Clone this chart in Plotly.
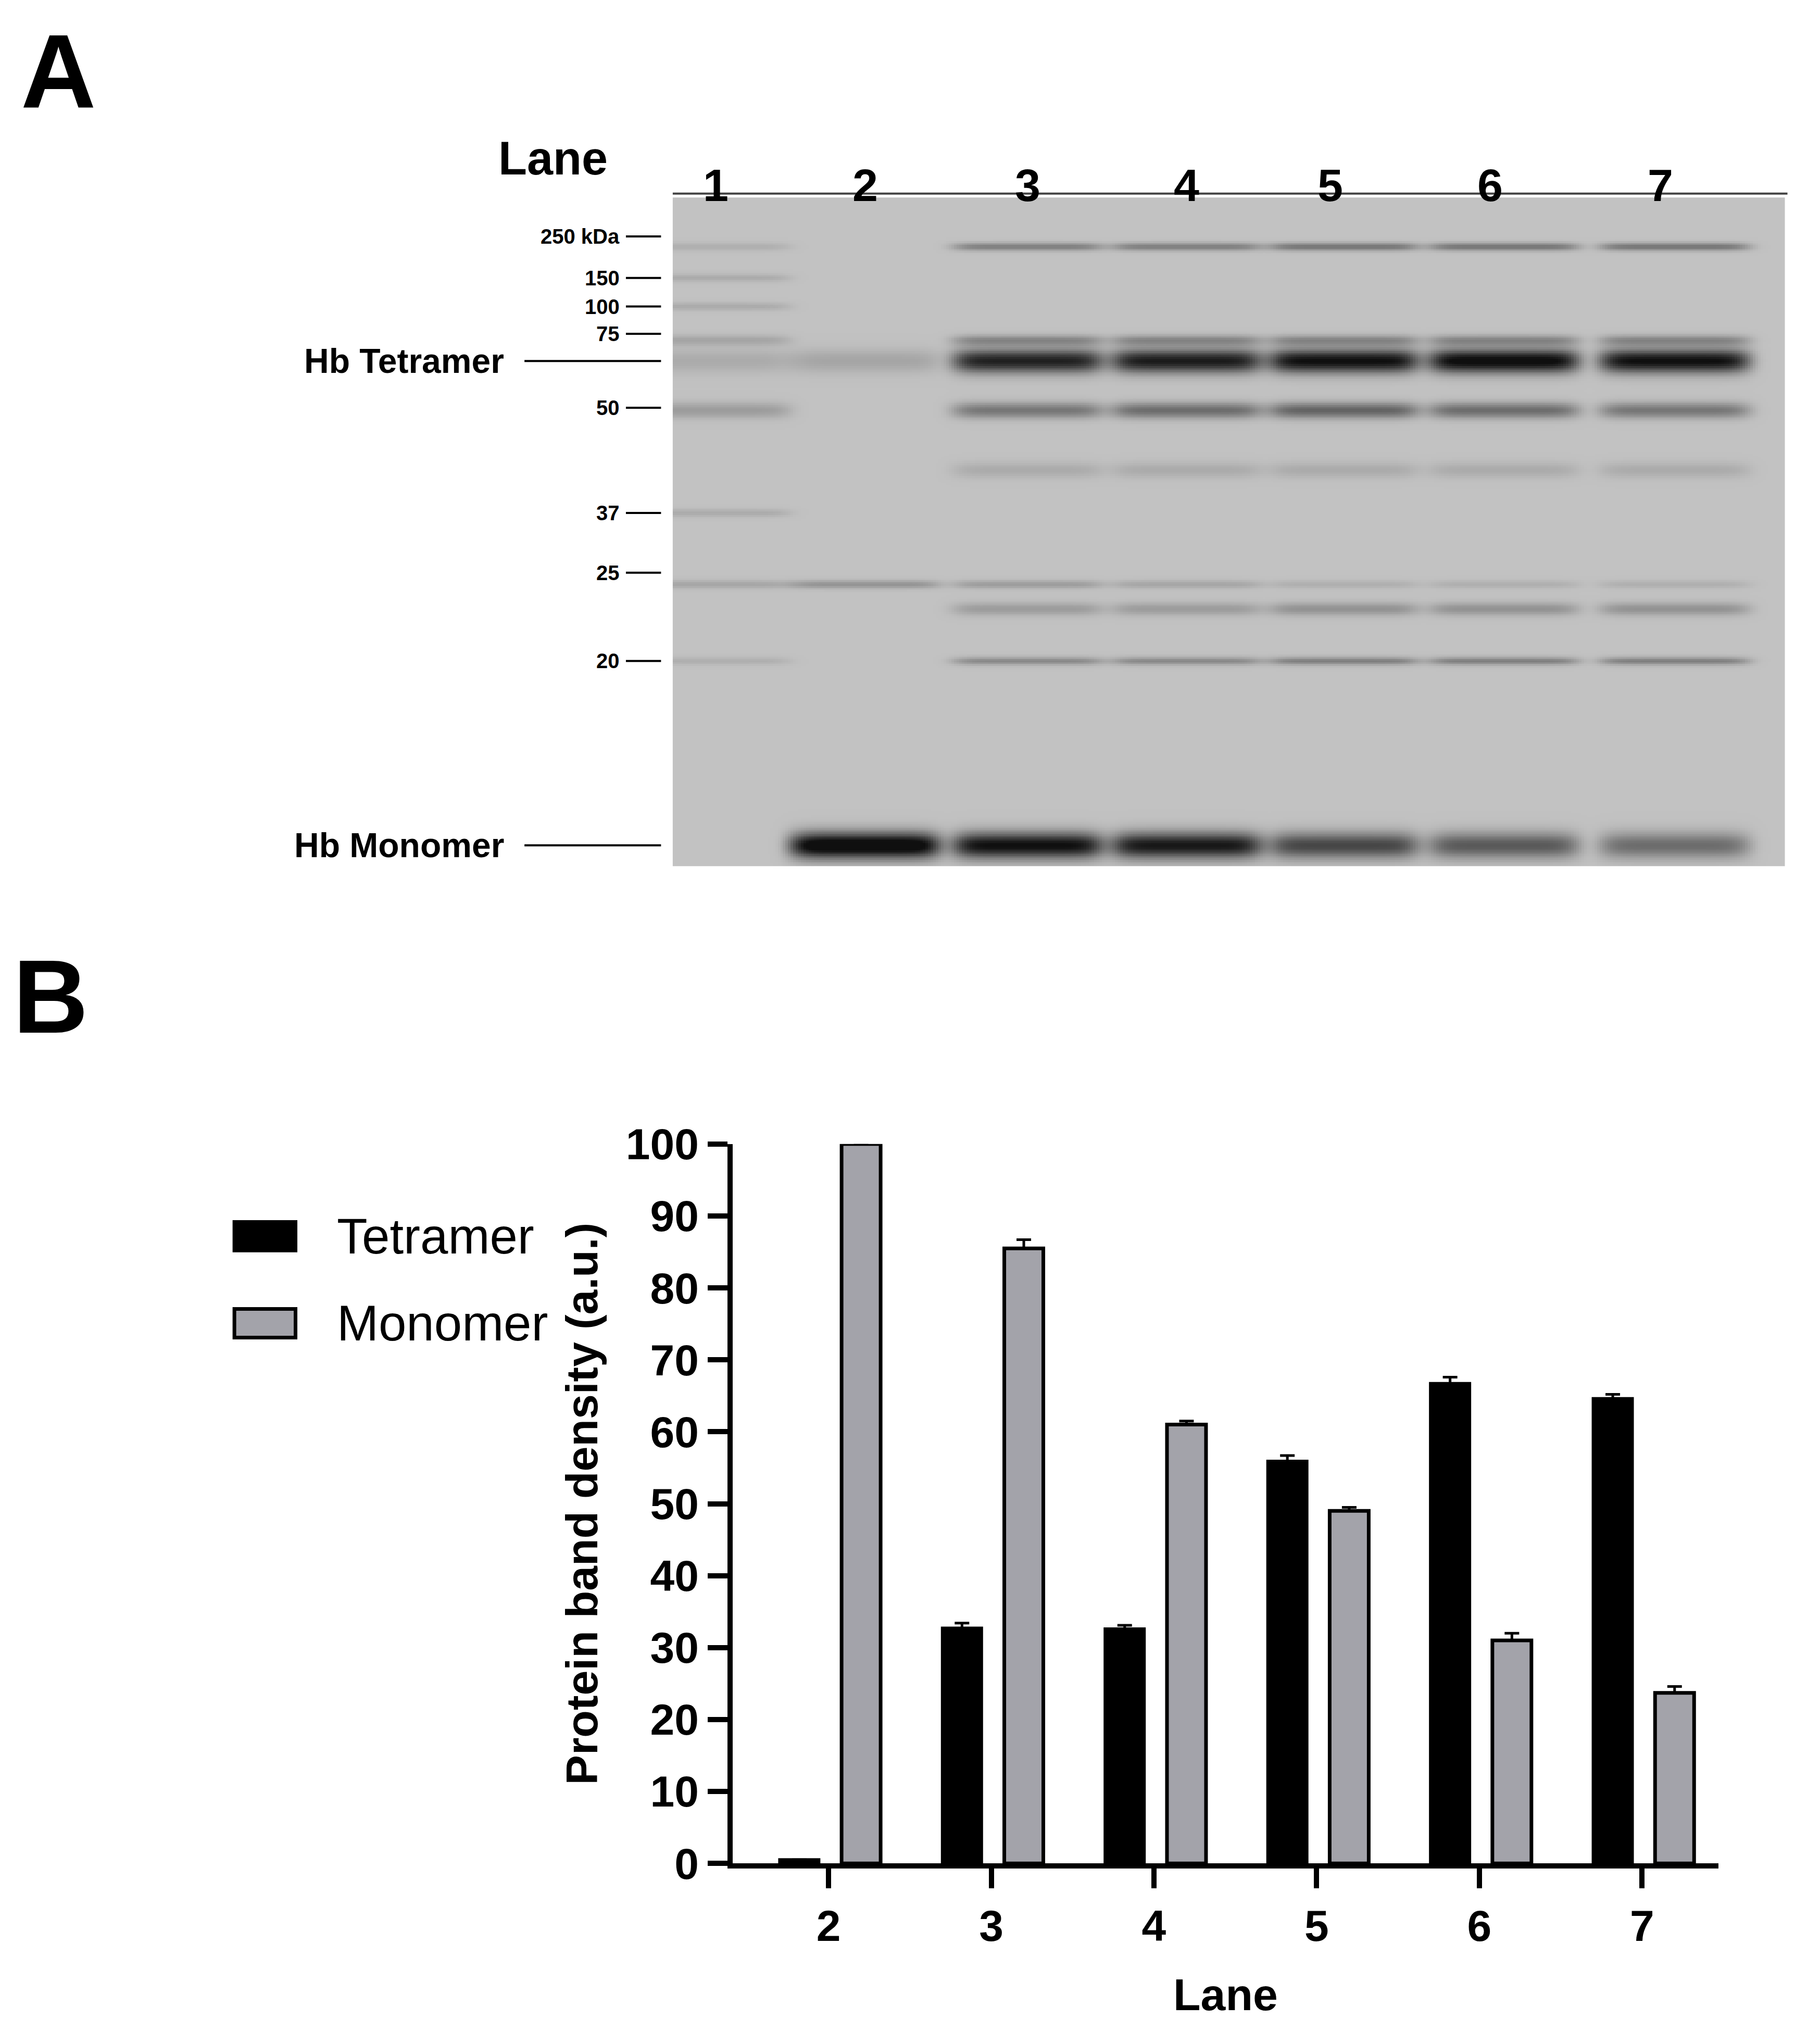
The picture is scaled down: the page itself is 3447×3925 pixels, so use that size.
import numpy as np
import plotly.graph_objects as go

# ---------------- data ----------------
lanes_b = [2, 3, 4, 5, 6, 7]
tetramer = [0.5, 32.7, 32.6, 55.9, 66.7, 64.6]
tetramer_err = [0, 0.7, 0.5, 0.8, 0.9, 0.6]
monomer = [100, 85.5, 61.0, 49.0, 31.0, 23.7]
monomer_err = [0, 1.2, 0.5, 0.5, 1.0, 0.9]

gel_lanes = ["1", "2", "3", "4", "5", "6", "7"]
gel_lane_pos = [547, 662, 787, 909, 1030, 1153, 1284]
mw_labels = ["250 kDa", "150", "100", "75", "50", "37", "25", "20"]
mw_pos = [30, 62, 84, 105, 162, 243, 289, 357]
hb_labels = ["Hb Tetramer", "Hb Monomer"]
hb_pos = [126, 499]
# bands: (gel position, thickness, intensities per lane 1..7)
bands = [
    (126, 9, [0.12, 0.15, 0.85, 0.88, 0.95, 1.0, 0.95]),
    (499, 10, [0.0, 1.1, 0.95, 0.9, 0.65, 0.55, 0.45]),
    (164, 6, [0.2, 0.0, 0.4, 0.45, 0.5, 0.45, 0.4]),
    (38, 3, [0.1, 0.0, 0.35, 0.35, 0.4, 0.4, 0.4]),
    (357, 3, [0.1, 0.0, 0.3, 0.3, 0.35, 0.35, 0.35]),
    (298, 3, [0.15, 0.25, 0.2, 0.15, 0.1, 0.1, 0.1]),
    (317, 5, [0.0, 0.0, 0.2, 0.2, 0.25, 0.25, 0.25]),
    (110, 4, [0.15, 0.0, 0.3, 0.3, 0.3, 0.3, 0.3]),
    (210, 6, [0.0, 0.0, 0.12, 0.12, 0.12, 0.12, 0.12]),
    (243, 3, [0.12, 0, 0, 0, 0, 0, 0]),
    (62, 3, [0.12, 0, 0, 0, 0, 0, 0]),
    (84, 3, [0.12, 0, 0, 0, 0, 0, 0]),
]

# ---------------- gel image ----------------
gx = np.linspace(514, 1369, 430)
gy = np.linspace(0, 515, 360)
X, Y = np.meshgrid(gx, gy)
Z = np.full(X.shape, 0.06)
for pos, w, ints in bands:
    for c, a in zip(gel_lane_pos, ints):
        if a > 0:
            Z += a * np.exp(-((X - c) / 58.0) ** 8) * np.exp(-((Y - pos) / w) ** 2)
Z = np.clip(Z, 0, 1)

fig = go.Figure()
fig.add_trace(go.Heatmap(x=gx, y=gy, z=Z, xaxis="x2", yaxis="y2", showscale=False,
                         zmin=0, zmax=1, hoverinfo="skip",
                         colorscale=[[0, "rgb(205,205,205)"], [0.5, "rgb(110,110,110)"], [1, "rgb(15,15,15)"]]))

# ---------------- bar chart ----------------
fig.add_trace(go.Bar(x=lanes_b, y=tetramer, width=0.24, offset=-0.30, name="Tetramer",
                     marker=dict(color="black", line=dict(color="black", width=6)),
                     error_y=dict(type="data", array=tetramer_err, symmetric=False, arrayminus=[0]*6,
                                  color="black", thickness=5, width=14)))
fig.add_trace(go.Bar(x=lanes_b, y=monomer, width=0.24, offset=0.08, name="Monomer",
                     marker=dict(color="#a3a3aa", line=dict(color="black", width=7)),
                     error_y=dict(type="data", array=monomer_err, symmetric=False, arrayminus=[0]*6,
                                  color="black", thickness=5, width=14)))

F = "Arial, Liberation Sans, sans-serif"
W, H = 1380.0, 1571.0
def px(d): return d / W
def py(d): return 1 - ((d - 18) / 0.978) / H

fig.update_layout(
    width=3447, height=3925, plot_bgcolor="white", paper_bgcolor="white",
    margin=dict(l=0, r=0, t=0, b=0), showlegend=False,
    font=dict(family=F, color="black"),
    xaxis=dict(domain=[px(560), px(1318)], range=[1.41, 7.47], tickvals=lanes_b,
               ticktext=[str(v) for v in lanes_b], showline=True, linewidth=10, linecolor="black",
               ticks="outside", ticklen=38, tickwidth=10, tickcolor="black",
               tickfont=dict(size=84, family=F, weight="bold"), showgrid=False, zeroline=False,
               title=dict(text="<b>Lane</b>", font=dict(size=86), standoff=60)),
    yaxis=dict(domain=[py(1431), py(877)], range=[0, 100], dtick=10, showline=True, linewidth=10,
               linecolor="black", ticks="outside", ticklen=38, tickwidth=10, tickcolor="black",
               tickfont=dict(size=84, family=F, weight="bold"), showgrid=False, zeroline=False,
               title=dict(text="<b>Protein band density (a.u.)</b>", font=dict(size=86), standoff=30)),
    xaxis2=dict(domain=[px(514), px(1369)], range=[514, 1369], anchor="y2", showticklabels=False,
                showgrid=False, zeroline=False, ticks=""),
    yaxis2=dict(domain=[py(663), py(148)], range=[515, 0], anchor="x2", showticklabels=False,
                showgrid=False, zeroline=False, ticks=""),
)

ann = []
shapes = []
ann.append(dict(text="<b>A</b>", x=px(12), y=py(5), xref="paper", yref="paper", xanchor="left",
                yanchor="top", showarrow=False, font=dict(size=200)))
ann.append(dict(text="<b>B</b>", x=px(6), y=py(718), xref="paper", yref="paper", xanchor="left",
                yanchor="top", showarrow=False, font=dict(size=200)))
ann.append(dict(text="<b>Lane</b>", x=px(465), y=py(118), xref="paper", yref="paper", xanchor="right",
                yanchor="middle", showarrow=False, font=dict(size=90)))
for t, p in zip(gel_lanes, gel_lane_pos):
    ann.append(dict(text=f"<b>{t}</b>", x=px(p), y=py(118), xref="paper", yref="paper",
                    showarrow=False, font=dict(size=88)))
shapes.append(dict(type="line", xref="paper", yref="paper", x0=px(514), x1=px(1371),
                   y0=py(145), y1=py(145), line=dict(color="#444", width=4)))
for t, p in zip(mw_labels, mw_pos):
    ann.append(dict(text=f"<b>{t}</b>", x=px(474), y=p, xref="paper", yref="y2", xanchor="right",
                    showarrow=False, font=dict(size=40)))
    shapes.append(dict(type="line", xref="paper", yref="y2", x0=px(478), x1=px(505), y0=p, y1=p,
                       line=dict(color="black", width=4)))
for t, p in zip(hb_labels, hb_pos):
    ann.append(dict(text=f"<b>{t}</b>", x=px(385), y=p, xref="paper", yref="y2", xanchor="right",
                    showarrow=False, font=dict(size=66)))
    shapes.append(dict(type="line", xref="paper", yref="y2", x0=px(400), x1=px(505), y0=p, y1=p,
                       line=dict(color="black", width=4)))
# legend
for name, col, yc in [("Tetramer", "black", 948), ("Monomer", "#a3a3aa", 1015)]:
    shapes.append(dict(type="rect", xref="paper", yref="paper", x0=px(177), x1=px(224),
                       y0=py(yc - 11), y1=py(yc + 11), fillcolor=col, line=dict(color="black", width=7)))
    ann.append(dict(text=name, x=px(255), y=py(yc), xref="paper", yref="paper", xanchor="left",
                    showarrow=False, font=dict(size=96)))
fig.update_layout(annotations=ann, shapes=shapes)
fig.write_html("out.html")
